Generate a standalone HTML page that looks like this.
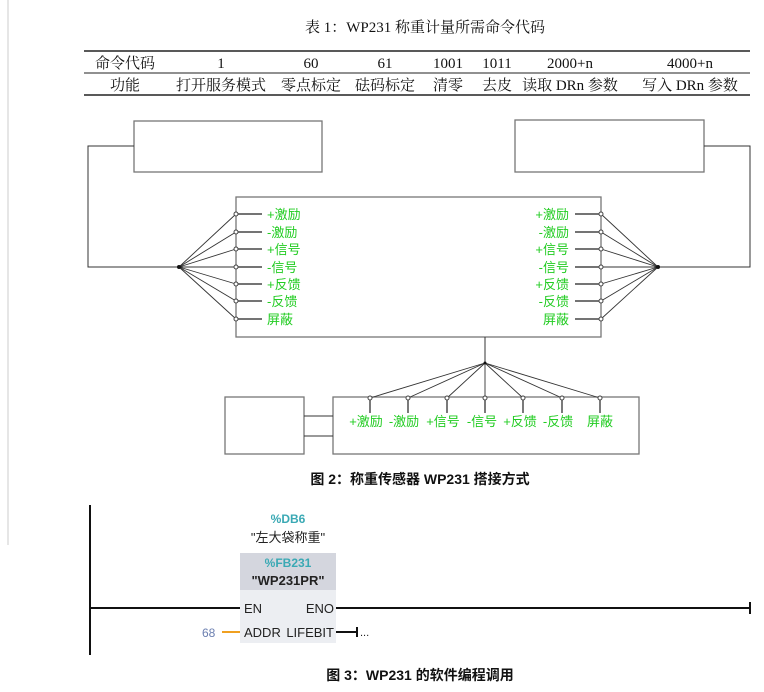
<!DOCTYPE html>
<html><head><meta charset="utf-8"><style>
html,body{margin:0;padding:0;background:#fff;}
svg{display:block;}
.t{font-family:"Liberation Serif","Noto Serif CJK SC",serif;font-size:15px;fill:#111;}
.g{font-family:"Liberation Sans","Noto Sans CJK SC",sans-serif;font-size:13px;fill:#22cc22;}
.c{font-family:"Liberation Sans","Noto Sans CJK SC",sans-serif;font-size:14px;font-weight:bold;fill:#111;}
.s{font-family:"Liberation Sans","Noto Sans CJK SC",sans-serif;font-size:13px;fill:#222;}
.p{font-family:"Liberation Sans",sans-serif;font-size:13px;fill:#222;}
</style></head><body>
<svg width="764" height="692" viewBox="0 0 764 692" xmlns="http://www.w3.org/2000/svg">
<line x1="8" y1="0" x2="8" y2="545" stroke="#ccc" stroke-width="1"/>
<text class="t" x="425" y="32" text-anchor="middle">表 1：WP231 称重计量所需命令代码</text>
<line x1="84" y1="51" x2="750" y2="51" stroke="#222" stroke-width="1.5"/>
<line x1="84" y1="73" x2="750" y2="73" stroke="#222" stroke-width="1"/>
<line x1="84" y1="95" x2="750" y2="95" stroke="#222" stroke-width="1.5"/>
<g class="t" text-anchor="middle">
<text x="125" y="68">命令代码</text><text x="221" y="68">1</text><text x="311" y="68">60</text><text x="385" y="68">61</text><text x="448" y="68">1001</text><text x="497" y="68">1011</text><text x="570" y="68">2000+n</text><text x="690" y="68">4000+n</text>
<text x="125" y="90">功能</text><text x="221" y="90">打开服务模式</text><text x="311" y="90">零点标定</text><text x="385" y="90">砝码标定</text><text x="448" y="90">清零</text><text x="497" y="90">去皮</text><text x="570" y="90">读取 DRn 参数</text><text x="690" y="90">写入 DRn 参数</text>
</g>
<g fill="none" stroke="#777" stroke-width="1.3">
<rect x="134" y="121" width="188" height="51"/>
<rect x="515" y="120" width="189" height="52"/>
<rect x="236" y="197" width="365" height="140"/>
<rect x="225" y="397" width="79" height="57"/>
<rect x="333" y="397" width="306" height="57"/>
</g>
<g fill="none" stroke="#333" stroke-width="1">
<polyline points="134,146 88,146 88,267 179,267"/>
<polyline points="704,146 750,146 750,267 658,267"/>
<line x1="304" y1="416" x2="333" y2="416"/>
<line x1="304" y1="436" x2="333" y2="436"/>
<line x1="485" y1="337" x2="485" y2="363"/>
</g>
<g stroke="#333" stroke-width="0.9" fill="none">
<line x1="179" y1="267" x2="236" y2="214"/><line x1="179" y1="267" x2="236" y2="232"/><line x1="179" y1="267" x2="236" y2="249"/><line x1="179" y1="267" x2="236" y2="267"/><line x1="179" y1="267" x2="236" y2="284"/><line x1="179" y1="267" x2="236" y2="301"/><line x1="179" y1="267" x2="236" y2="319"/>
<line x1="658" y1="267" x2="601" y2="214"/><line x1="658" y1="267" x2="601" y2="232"/><line x1="658" y1="267" x2="601" y2="249"/><line x1="658" y1="267" x2="601" y2="267"/><line x1="658" y1="267" x2="601" y2="284"/><line x1="658" y1="267" x2="601" y2="301"/><line x1="658" y1="267" x2="601" y2="319"/>
<line x1="485" y1="363" x2="370" y2="398"/><line x1="485" y1="363" x2="408" y2="398"/><line x1="485" y1="363" x2="447" y2="398"/><line x1="485" y1="363" x2="485" y2="398"/><line x1="485" y1="363" x2="523" y2="398"/><line x1="485" y1="363" x2="562" y2="398"/><line x1="485" y1="363" x2="600" y2="398"/>
</g>
<g stroke="#222" stroke-width="1.2">
<line x1="236" y1="214" x2="262" y2="214"/><line x1="236" y1="232" x2="262" y2="232"/><line x1="236" y1="249" x2="262" y2="249"/><line x1="236" y1="267" x2="262" y2="267"/><line x1="236" y1="284" x2="262" y2="284"/><line x1="236" y1="301" x2="262" y2="301"/><line x1="236" y1="319" x2="262" y2="319"/>
<line x1="575" y1="214" x2="601" y2="214"/><line x1="575" y1="232" x2="601" y2="232"/><line x1="575" y1="249" x2="601" y2="249"/><line x1="575" y1="267" x2="601" y2="267"/><line x1="575" y1="284" x2="601" y2="284"/><line x1="575" y1="301" x2="601" y2="301"/><line x1="575" y1="319" x2="601" y2="319"/>
<line x1="370" y1="398" x2="370" y2="413"/><line x1="408" y1="398" x2="408" y2="413"/><line x1="447" y1="398" x2="447" y2="413"/><line x1="485" y1="398" x2="485" y2="413"/><line x1="523" y1="398" x2="523" y2="413"/><line x1="562" y1="398" x2="562" y2="413"/><line x1="600" y1="398" x2="600" y2="413"/>
</g>
<g fill="#fff" stroke="#444" stroke-width="1">
<circle cx="236" cy="214" r="2"/><circle cx="236" cy="232" r="2"/><circle cx="236" cy="249" r="2"/><circle cx="236" cy="267" r="2"/><circle cx="236" cy="284" r="2"/><circle cx="236" cy="301" r="2"/><circle cx="236" cy="319" r="2"/>
<circle cx="601" cy="214" r="2"/><circle cx="601" cy="232" r="2"/><circle cx="601" cy="249" r="2"/><circle cx="601" cy="267" r="2"/><circle cx="601" cy="284" r="2"/><circle cx="601" cy="301" r="2"/><circle cx="601" cy="319" r="2"/>
<circle cx="370" cy="398" r="2"/><circle cx="408" cy="398" r="2"/><circle cx="447" cy="398" r="2"/><circle cx="485" cy="398" r="2"/><circle cx="523" cy="398" r="2"/><circle cx="562" cy="398" r="2"/><circle cx="600" cy="398" r="2"/>
</g>
<circle cx="179" cy="267" r="2" fill="#111"/><circle cx="658" cy="267" r="2" fill="#111"/><circle cx="485" cy="363" r="1.5" fill="#111"/>
<g class="g">
<text x="267" y="219">+激励</text><text x="267" y="237">-激励</text><text x="267" y="254">+信号</text><text x="267" y="272">-信号</text><text x="267" y="289">+反馈</text><text x="267" y="306">-反馈</text><text x="267" y="324">屏蔽</text>
</g>
<g class="g" text-anchor="end">
<text x="569" y="219">+激励</text><text x="569" y="237">-激励</text><text x="569" y="254">+信号</text><text x="569" y="272">-信号</text><text x="569" y="289">+反馈</text><text x="569" y="306">-反馈</text><text x="569" y="324">屏蔽</text>
</g>
<g class="g" text-anchor="middle">
<text x="366" y="426">+激励</text><text x="404" y="426">-激励</text><text x="443" y="426">+信号</text><text x="482" y="426">-信号</text><text x="520" y="426">+反馈</text><text x="558" y="426">-反馈</text><text x="600" y="426">屏蔽</text>
</g>
<text class="c" x="420" y="484" text-anchor="middle">图 2：称重传感器 WP231 搭接方式</text>
<line x1="90" y1="505" x2="90" y2="655" stroke="#111" stroke-width="2"/>
<line x1="90" y1="608" x2="240" y2="608" stroke="#111" stroke-width="2"/>
<line x1="336" y1="608" x2="750" y2="608" stroke="#111" stroke-width="2"/>
<line x1="750" y1="602" x2="750" y2="614" stroke="#111" stroke-width="2"/>
<rect x="240" y="553" width="96" height="37" fill="#d4d6de"/>
<rect x="240" y="590" width="96" height="53" fill="#eceef2"/>
<text x="288" y="523" text-anchor="middle" font-family="Liberation Sans,sans-serif" font-size="12" font-weight="bold" fill="#3aa9b4">%DB6</text>
<text class="s" x="288" y="542" text-anchor="middle">"左大袋称重"</text>
<text x="288" y="567" text-anchor="middle" font-family="Liberation Sans,sans-serif" font-size="12" font-weight="bold" fill="#3aa9b4">%FB231</text>
<text x="288" y="585" text-anchor="middle" font-family="Liberation Sans,sans-serif" font-size="13" font-weight="bold" fill="#222">"WP231PR"</text>
<text class="p" x="244" y="613">EN</text>
<text class="p" x="334" y="613" text-anchor="end">ENO</text>
<text class="p" x="244" y="637">ADDR</text>
<text class="p" x="334" y="637" text-anchor="end">LIFEBIT</text>
<text x="202" y="637" font-family="Liberation Sans,sans-serif" font-size="12" fill="#6b7fb0">68</text>
<line x1="222" y1="632" x2="240" y2="632" stroke="#f0a020" stroke-width="2"/>
<line x1="336" y1="632" x2="357" y2="632" stroke="#111" stroke-width="2"/>
<line x1="357" y1="627" x2="357" y2="637" stroke="#111" stroke-width="2"/>
<text x="360" y="636" font-family="Liberation Sans,sans-serif" font-size="11" fill="#222">...</text>
<text class="c" x="420" y="680" text-anchor="middle">图 3：WP231 的软件编程调用</text>
</svg>
</body></html>
